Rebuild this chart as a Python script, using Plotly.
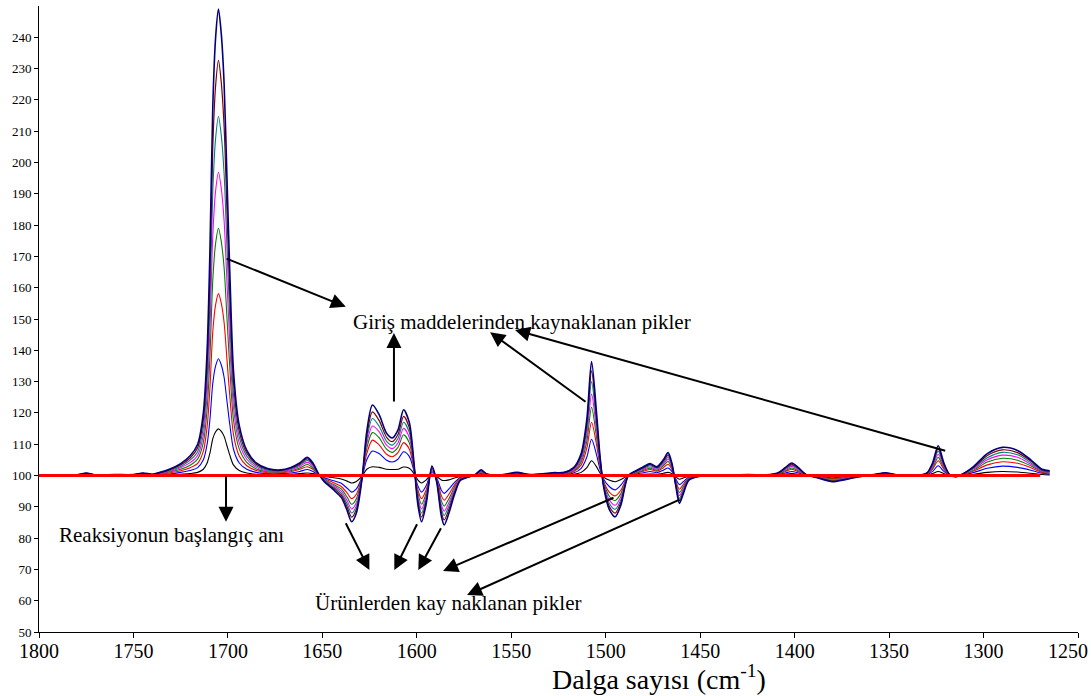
import plotly.graph_objects as go

# Wavenumber grid (cm^-1), shared by all spectra
wavenumber = [
    1800, 1790, 1780, 1775, 1770, 1760, 1750, 1745, 1740, 1736,
    1731, 1725, 1720, 1716, 1713, 1711, 1709.5, 1708, 1706.5, 1705,
    1703.5, 1702, 1700.5, 1699, 1697, 1694, 1690, 1685, 1679, 1672,
    1667, 1662, 1658, 1655, 1652, 1649, 1644, 1640, 1637, 1634.5,
    1632, 1629, 1626.5, 1623.5, 1620, 1616, 1613, 1610, 1607, 1604,
    1601.5, 1599.5, 1597.5, 1595, 1592, 1589.5, 1587, 1585.5, 1583, 1580,
    1577, 1573, 1569, 1566, 1563, 1555, 1547, 1540, 1528, 1522,
    1517, 1513, 1510, 1507.5, 1505, 1503, 1501, 1498, 1495, 1492,
    1488, 1484, 1480, 1476.5, 1473, 1469.5, 1467, 1465, 1463, 1461,
    1459, 1456, 1450, 1440, 1425, 1415, 1409, 1405, 1401.5, 1398,
    1394, 1388, 1380, 1374, 1366, 1358, 1352, 1346, 1335, 1330,
    1327, 1324, 1321, 1318, 1315, 1311, 1305, 1298, 1290, 1282,
    1275, 1269, 1265,
]

# Spectra recorded during the reaction, earliest (black) to latest (navy)
spectrum_1 = [
    100.0, 100.0, 100.0, 100.1, 100.0, 100.0, 100.0, 100.1, 100.1, 100.1,
    100.2, 100.4, 100.6, 101.0, 102.0, 104.0, 107.2, 111.8, 114.0, 114.9,
    114.1, 112.5, 109.5, 106.5, 103.3, 101.6, 100.8, 100.4, 100.2, 100.3,
    100.4, 100.6, 100.8, 100.6, 100.1, 99.7, 99.3, 98.9, 98.2, 97.6,
    98.1, 99.8, 102.0, 102.8, 102.6, 102.0, 101.9, 102.0, 102.7, 102.3,
    100.6, 98.6, 97.6, 98.6, 100.5, 99.7, 98.6, 98.4, 98.6, 99.2,
    99.7, 99.9, 100.0, 100.3, 100.1, 100.0, 100.1, 100.0, 100.1, 100.1,
    100.4, 101.0, 102.5, 104.7, 102.9, 100.8, 99.4, 98.5, 98.0, 98.7,
    100.0, 100.2, 100.4, 100.5, 100.4, 100.7, 101.0, 100.6, 99.6, 98.8,
    99.2, 99.8, 100.0, 100.0, 100.0, 100.0, 100.1, 100.4, 100.6, 100.4,
    100.0, 99.9, 99.7, 99.8, 99.9, 100.0, 100.1, 100.0, 100.0, 100.1,
    100.6, 101.3, 100.6, 100.0, 99.9, 100.1, 100.4, 101.0, 101.3, 101.1,
    100.7, 100.3, 100.2,
]
spectrum_2 = [
    100.0, 100.0, 100.1, 100.3, 100.1, 100.1, 100.1, 100.3, 100.1, 100.3,
    100.5, 101.0, 101.6, 102.5, 105.0, 110.0, 118.0, 129.5, 135.0, 137.3,
    135.3, 131.3, 123.8, 116.3, 108.3, 104.0, 102.0, 101.0, 100.6, 100.6,
    100.8, 101.3, 101.9, 101.3, 100.2, 99.3, 98.3, 97.5, 96.0, 94.7,
    95.7, 99.6, 105.0, 107.8, 107.0, 104.9, 104.3, 105.2, 107.6, 106.1,
    101.4, 96.8, 94.7, 96.8, 101.1, 99.3, 95.3, 94.3, 95.7, 97.8,
    99.4, 99.8, 100.1, 100.6, 100.2, 100.1, 100.3, 100.1, 100.3, 100.3,
    100.8, 102.3, 105.9, 111.6, 106.9, 102.0, 98.7, 96.4, 95.4, 96.9,
    100.0, 100.5, 100.9, 101.3, 100.9, 101.7, 102.4, 101.3, 99.0, 97.1,
    98.0, 99.5, 99.9, 100.0, 100.1, 100.1, 100.3, 100.8, 101.3, 100.8,
    100.1, 99.8, 99.3, 99.5, 99.9, 100.1, 100.3, 100.1, 100.0, 100.3,
    101.3, 103.1, 101.3, 100.1, 99.9, 100.2, 101.0, 102.3, 103.0, 102.6,
    101.7, 100.7, 100.5,
]
spectrum_3 = [
    100.0, 100.0, 100.1, 100.4, 100.1, 100.1, 100.1, 100.4, 100.2, 100.4,
    100.8, 101.5, 102.5, 103.9, 107.8, 115.6, 128.1, 146.0, 154.6, 158.1,
    155.0, 148.8, 137.1, 125.4, 112.9, 106.2, 103.1, 101.6, 100.9, 100.9,
    101.2, 102.0, 102.8, 102.0, 100.2, 99.0, 97.7, 96.5, 94.5, 92.6,
    94.0, 99.5, 107.0, 111.3, 109.8, 106.8, 106.0, 107.3, 110.5, 108.5,
    102.0, 95.5, 92.6, 95.5, 101.5, 99.0, 93.5, 92.1, 94.0, 97.0,
    99.2, 99.7, 100.1, 100.9, 100.2, 100.1, 100.5, 100.1, 100.4, 100.5,
    101.2, 103.4, 108.8, 117.0, 110.3, 102.9, 98.0, 94.6, 93.5, 95.3,
    100.0, 100.7, 101.4, 101.9, 101.4, 102.5, 103.6, 102.0, 98.5, 95.6,
    97.1, 99.3, 99.9, 100.0, 100.1, 100.1, 100.4, 101.2, 102.0, 101.2,
    100.1, 99.7, 99.0, 99.3, 99.8, 100.1, 100.4, 100.1, 100.0, 100.4,
    102.0, 104.7, 102.0, 100.1, 99.8, 100.2, 101.5, 103.4, 104.4, 103.9,
    102.5, 101.0, 100.7,
]
spectrum_4 = [
    100.0, 100.1, 100.1, 100.5, 100.1, 100.2, 100.2, 100.5, 100.2, 100.5,
    101.1, 102.0, 103.3, 105.3, 110.6, 121.2, 138.2, 162.5, 174.2, 179.0,
    174.7, 166.3, 150.4, 134.5, 117.5, 108.5, 104.2, 102.1, 101.2, 101.1,
    101.5, 102.4, 103.5, 102.4, 100.3, 98.8, 97.1, 95.7, 93.2, 90.8,
    92.6, 99.4, 108.7, 113.7, 112.1, 108.4, 107.4, 109.0, 113.0, 110.5,
    102.5, 94.4, 90.8, 94.4, 101.9, 98.8, 91.9, 90.2, 92.6, 96.3,
    99.0, 99.6, 100.2, 101.1, 100.3, 100.1, 100.6, 100.2, 100.5, 100.6,
    101.5, 104.3, 111.0, 121.8, 112.8, 103.7, 97.6, 93.3, 92.0, 94.2,
    100.0, 100.9, 101.7, 102.3, 101.7, 103.1, 104.5, 102.4, 98.2, 94.6,
    96.3, 99.1, 99.9, 100.0, 100.2, 100.1, 100.5, 101.5, 102.4, 101.5,
    100.2, 99.6, 98.8, 99.1, 99.8, 100.2, 100.5, 100.1, 100.0, 100.5,
    102.4, 105.8, 102.4, 100.2, 99.8, 100.3, 101.8, 104.3, 105.5, 104.9,
    103.1, 101.2, 100.9,
]
spectrum_5 = [
    100.0, 100.1, 100.1, 100.6, 100.1, 100.2, 100.2, 100.6, 100.3, 100.7,
    101.3, 102.5, 104.1, 106.5, 113.0, 126.0, 146.8, 176.7, 191.0, 196.9,
    191.7, 181.3, 161.8, 142.3, 121.5, 110.4, 105.2, 102.6, 101.4, 101.3,
    101.8, 102.9, 104.2, 102.9, 100.4, 98.6, 96.7, 95.0, 92.1, 89.3,
    91.4, 99.3, 110.1, 115.8, 114.0, 109.7, 108.6, 110.4, 115.1, 112.2,
    102.9, 93.5, 89.3, 93.5, 102.2, 98.6, 90.6, 88.6, 91.4, 95.7,
    98.8, 99.6, 100.2, 101.3, 100.4, 100.1, 100.7, 100.2, 100.6, 100.7,
    101.8, 105.0, 113.0, 126.0, 115.1, 104.3, 97.1, 92.1, 90.5, 93.2,
    100.0, 101.1, 102.0, 102.7, 102.0, 103.6, 105.3, 102.9, 97.8, 93.6,
    95.7, 98.9, 99.9, 100.0, 100.2, 100.1, 100.6, 101.8, 102.9, 101.8,
    100.2, 99.5, 98.6, 99.0, 99.7, 100.2, 100.6, 100.1, 100.0, 100.6,
    102.9, 106.8, 102.9, 100.2, 99.7, 100.4, 102.2, 105.0, 106.5, 105.8,
    103.6, 101.4, 101.1,
]
spectrum_6 = [
    100.0, 100.1, 100.2, 100.7, 100.2, 100.2, 100.2, 100.7, 100.3, 100.8,
    101.5, 102.9, 104.9, 107.7, 115.4, 130.8, 155.4, 190.9, 207.8, 214.7,
    208.6, 196.3, 173.2, 150.1, 125.4, 112.3, 106.2, 103.1, 101.7, 101.5,
    102.1, 103.3, 104.8, 103.3, 100.4, 98.4, 96.3, 94.3, 91.1, 88.0,
    90.3, 99.2, 111.3, 118.2, 115.8, 110.9, 109.7, 111.8, 117.0, 113.8,
    103.2, 92.7, 88.0, 92.7, 102.4, 98.4, 89.5, 87.2, 90.3, 95.1,
    98.7, 99.5, 100.2, 101.5, 100.4, 100.2, 100.8, 100.2, 100.7, 100.8,
    102.1, 105.7, 114.8, 130.0, 117.2, 104.9, 96.7, 91.0, 89.2, 92.2,
    100.0, 101.2, 102.3, 103.1, 102.3, 104.1, 106.0, 103.3, 97.5, 92.7,
    95.1, 98.8, 99.8, 100.0, 100.2, 100.2, 100.7, 102.1, 103.3, 102.1,
    100.2, 99.4, 98.4, 98.9, 99.7, 100.2, 100.7, 100.2, 100.0, 100.7,
    103.3, 107.8, 103.3, 100.2, 99.7, 100.4, 102.5, 105.7, 107.4, 106.6,
    104.1, 101.6, 101.2,
]
spectrum_7 = [
    100.0, 100.1, 100.2, 100.7, 100.2, 100.3, 100.3, 100.7, 100.4, 100.9,
    101.8, 103.4, 105.6, 108.9, 117.8, 135.6, 164.1, 205.0, 224.6, 232.6,
    225.5, 211.3, 184.6, 157.9, 129.4, 114.2, 107.1, 103.6, 102.0, 101.6,
    102.3, 103.6, 105.3, 103.6, 100.5, 98.2, 95.9, 93.7, 90.1, 86.7,
    89.2, 99.1, 112.6, 120.3, 117.6, 112.2, 110.8, 113.1, 118.9, 115.3,
    103.6, 91.9, 86.7, 91.9, 102.7, 98.2, 88.3, 85.8, 89.2, 94.6,
    98.6, 99.5, 100.3, 101.6, 100.5, 100.2, 100.9, 100.3, 100.8, 100.9,
    102.3, 106.4, 116.4, 133.4, 119.1, 105.5, 96.4, 90.0, 88.0, 91.4,
    100.0, 101.4, 102.5, 103.5, 102.5, 104.6, 106.6, 103.6, 97.3, 91.9,
    94.5, 98.6, 99.8, 100.0, 100.3, 100.2, 100.7, 102.3, 103.6, 102.3,
    100.3, 99.4, 98.2, 98.7, 99.6, 100.3, 100.8, 100.2, 100.0, 100.7,
    103.6, 108.6, 103.6, 100.3, 99.6, 100.5, 102.7, 106.4, 108.2, 107.3,
    104.6, 101.8, 101.4,
]
spectrum_8 = [
    100.0, 100.1, 100.2, 100.8, 100.2, 100.3, 100.3, 100.8, 100.4, 101.0,
    102.0, 103.8, 106.3, 110.0, 120.0, 140.0, 172.0, 218.0, 240.0, 249.0,
    241.0, 225.0, 195.0, 165.0, 133.0, 116.0, 108.0, 104.0, 102.2, 101.8,
    102.5, 104.0, 105.8, 104.0, 100.5, 98.0, 95.4, 93.0, 89.0, 85.2,
    88.0, 99.0, 114.0, 122.5, 119.5, 113.5, 112.0, 114.5, 121.0, 117.0,
    104.0, 91.0, 85.2, 91.0, 103.0, 98.0, 87.0, 84.2, 88.0, 94.0,
    98.4, 99.4, 100.3, 101.8, 100.5, 100.2, 101.0, 100.3, 100.9, 101.0,
    102.5, 107.0, 118.0, 136.4, 121.0, 106.0, 96.0, 89.0, 86.8, 90.5,
    100.0, 101.5, 102.8, 103.8, 102.8, 105.0, 107.3, 104.0, 97.0, 91.1,
    94.0, 98.5, 99.8, 100.0, 100.3, 100.2, 100.8, 102.5, 104.0, 102.5,
    100.3, 99.3, 98.0, 98.6, 99.6, 100.3, 100.9, 100.2, 100.0, 100.8,
    104.0, 109.5, 104.0, 100.3, 99.6, 100.5, 103.0, 107.0, 109.0, 108.0,
    105.0, 102.0, 101.5,
]

# Reaction start (reference spectrum, flat at 100)
start_wavenumber = [1800, 1270]
start_value = [100, 100]

x_ticks = [1800, 1750, 1700, 1650, 1600, 1550, 1500, 1450, 1400, 1350, 1300, 1250]
# The last label sits against the right edge, so it is drawn separately
x_tick_text = ["1800", "1750", "1700", "1650", "1600", "1550", "1500",
               "1450", "1400", "1350", "1300", ""]
last_tick_label = "1250"
y_ticks = [50, 60, 70, 80, 90, 100, 110, 120, 130, 140, 150, 160, 170, 180,
           190, 200, 210, 220, 230, 240]

spectra = [spectrum_1, spectrum_2, spectrum_3, spectrum_4,
           spectrum_5, spectrum_6, spectrum_7, spectrum_8]
line_colors = ["#000000", "#0000FF", "#FF0000", "#008000",
               "#FF00FF", "#008080", "#800000", "#000080"]
line_widths = [1.1, 1.1, 1.1, 1.1, 1.1, 1.1, 1.2, 1.6]

SERIF = "Liberation Serif, Times New Roman, serif"

fig = go.Figure()
for vals, col, lw in zip(spectra, line_colors, line_widths):
    fig.add_trace(go.Scatter(
        x=wavenumber, y=vals, mode="lines",
        line=dict(color=col, width=lw, shape="spline", smoothing=0.8),
        hoverinfo="skip",
    ))

fig.add_trace(go.Scatter(
    x=start_wavenumber, y=start_value, mode="lines",
    line=dict(color="#FF0000", width=3), hoverinfo="skip",
))

# Arrows: (head wavenumber, head value, tail wavenumber, tail value)
arrows = [
    (1637.6, 153.9, 1701.5, 169.5),
    (1612.1, 145.5, 1612.1, 123.2),
    (1561.2, 145.8, 1509.9, 123.2),
    (1548.0, 146.5, 1319.5, 107.8),
    (1701.0, 85.2, 1701.0, 100.2),
    (1625.1, 69.8, 1638.0, 85.2),
    (1611.9, 69.8, 1599.5, 84.9),
    (1599.2, 69.8, 1586.8, 83.6),
    (1586.1, 69.5, 1495.1, 93.1),
    (1573.4, 61.8, 1460.1, 92.5),
]
annotations = []
for hx, hy, tx, ty in arrows:
    annotations.append(dict(
        x=hx, y=hy, ax=tx, ay=ty, xref="x", yref="y", axref="x", ayref="y",
        text="", showarrow=True, arrowhead=2, arrowsize=1.5, arrowwidth=2,
        arrowcolor="black", standoff=0, startstandoff=0,
    ))

labels = [
    ("Giriş maddelerinden kaynaklanan pikler", 1544.5, 149.0),
    ("Reaksiyonun başlangıç anı", 1729.8, 81.0),
    ("Ürünlerden kay naklanan pikler", 1583.6, 59.2),
]
for txt, lx, ly in labels:
    annotations.append(dict(
        x=lx, y=ly, xref="x", yref="y", text=txt, showarrow=False,
        xanchor="center", yanchor="middle",
        font=dict(family=SERIF, size=21, color="black"),
    ))

annotations.append(dict(
    x=0.9905, y=-0.0305, xref="paper", yref="paper",
    text=last_tick_label, showarrow=False,
    xanchor="center", yanchor="middle",
    font=dict(family=SERIF, size=20, color="black"),
))

annotations.append(dict(
    x=0.597, y=-0.072, xref="paper", yref="paper",
    text="Dalga sayısı (cm<sup>-1</sup>)", showarrow=False,
    xanchor="center", yanchor="middle",
    font=dict(family=SERIF, size=28, color="black"),
))

fig.update_layout(
    width=1091, height=696,
    margin=dict(l=39, r=13, t=6, b=64),
    paper_bgcolor="white", plot_bgcolor="white",
    showlegend=False,
    font=dict(family=SERIF, color="black"),
    annotations=annotations,
)
fig.update_xaxes(
    range=[1800, 1250], tickvals=x_ticks, ticktext=x_tick_text,
    ticks="outside", ticklen=5, ticklabelstandoff=-4,
    tickcolor="black", showline=True, linecolor="black", linewidth=1,
    showgrid=False, zeroline=False, tickfont=dict(family=SERIF, size=20),
    automargin=False,
)
fig.update_yaxes(
    range=[50, 250], tickvals=y_ticks, ticks="outside", ticklen=4,
    tickcolor="black", showline=True, linecolor="black", linewidth=1,
    showgrid=False, zeroline=False, tickfont=dict(family=SERIF, size=13),
    automargin=False,
)

fig.write_html("out.html", config={"displayModeBar": False})
